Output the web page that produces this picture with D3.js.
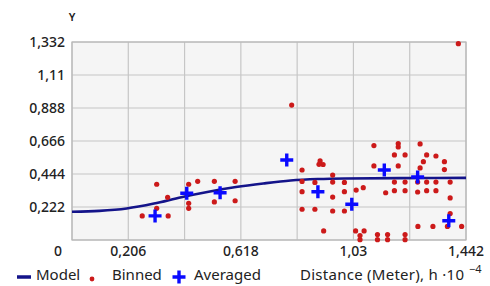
<!DOCTYPE html>
<html><head><meta charset="utf-8">
<script src="https://cdn.jsdelivr.net/npm/d3@7"></script>
<style>
body{margin:0;background:#fff;}
text{font-family:"Noto Sans","Liberation Sans",sans-serif;fill:#222;}
</style></head>
<body><svg id="c" width="490" height="286"></svg>
<script>
const xTicks = [0, 0.206, 0.412, 0.618, 0.824, 1.03, 1.236, 1.442];
const xTickLabels = ["", "0,206", "", "0,618", "", "1,03", "", "1,442"];
const yTicks = [0, 0.222, 0.444, 0.666, 0.888, 1.11, 1.332];
const yTickLabels = ["", "0,222", "0,444", "0,666", "0,888", "1,11", "1,332"];

const modelX = [0, 0.1, 0.2, 0.3, 0.4, 0.5, 0.6, 0.7, 0.8, 0.9, 1.0, 1.2, 1.442];
const modelY = [0.190, 0.196, 0.212, 0.245, 0.288, 0.325, 0.356, 0.380, 0.400, 0.410, 0.414, 0.416, 0.418];

const binnedX = [0.257,0.310,0.310,0.352,0.350,0.427,0.460,0.427,0.427,0.521,0.597,0.521,0.597,
 0.804,0.842,0.908,0.919,0.904,0.954,0.842,0.889,0.954,0.997,0.842,0.954,0.997,1.040,1.066,
 0.842,0.889,0.954,0.997,0.921,1.038,1.069,1.054,1.054,
 1.105,1.105,1.194,1.194,1.180,1.219,1.194,1.148,1.180,1.180,1.219,1.219,
 1.118,1.155,1.219,1.118,1.155,1.219,
 1.274,1.298,1.332,1.286,1.274,1.363,1.363,1.265,1.298,1.332,1.384,1.265,1.298,1.332,1.384,1.384,
 1.266,1.321,1.374,1.426,1.414];
const binnedY = [0.162,0.375,0.213,0.162,0.287,0.375,0.395,0.247,0.213,0.395,0.395,0.256,0.264,
 0.908,0.471,0.532,0.508,0.509,0.437,0.394,0.387,0.390,0.387,0.325,0.289,0.325,0.336,0.352,
 0.207,0.207,0.195,0.195,0.061,0.061,0.061,0.030,0.002,
 0.635,0.498,0.649,0.626,0.572,0.572,0.498,0.318,0.390,0.332,0.390,0.332,
 0.037,0.037,0.037,0.002,0.002,0.002,
 0.646,0.572,0.565,0.527,0.485,0.527,0.474,0.390,0.390,0.390,0.390,0.323,0.332,0.332,0.283,0.178,
 0.091,0.091,0.091,0.091,1.321];

const avgX = [0.304,0.420,0.542,0.786,0.900,1.024,1.143,1.265,1.379];
const avgY = [0.162,0.314,0.318,0.538,0.325,0.240,0.471,0.424,0.130];

const svg = d3.select("#c");
const L = 72, R = 466, T = 42, B = 240;
const x = d3.scaleLinear().domain([0, 1.442]).range([L, R]);
const y = d3.scaleLinear().domain([0, 1.332]).range([B, T]);

svg.append("rect").attr("x", L).attr("y", T).attr("width", R-L).attr("height", B-T)
  .attr("fill", "#f5f5f5");

const g = svg.append("g");
g.selectAll(".vg").data(xTicks).join("line")
  .attr("x1", d=>x(d)).attr("x2", d=>x(d)).attr("y1", T).attr("y2", B)
  .attr("stroke", "#c6c6c6").attr("stroke-width", 1.2);
g.selectAll(".hg").data(yTicks).join("line")
  .attr("y1", d=>y(d)).attr("y2", d=>y(d)).attr("x1", L).attr("x2", R)
  .attr("stroke", "#c6c6c6").attr("stroke-width", 1.2);
svg.append("rect").attr("x", L).attr("y", T).attr("width", R-L).attr("height", B-T)
  .attr("fill", "none").attr("stroke", "#b8b8b8").attr("stroke-width", 1.2);

// y labels
svg.selectAll(".yl").data(yTicks).join("text")
  .attr("x", 65).attr("y", d=>y(d)).attr("dy", "0.35em").attr("text-anchor", "end")
  .attr("font-size", 14).attr("font-weight", 500).text((d,i)=>yTickLabels[i]);
svg.append("text").attr("x", 72).attr("y", 17).attr("dy", "0.35em").attr("text-anchor", "middle")
  .attr("font-size", 11).attr("font-weight", 600).text("Y");

// x labels
svg.selectAll(".xl").data(xTicks).join("text")
  .attr("x", d=>x(d)).attr("y", 251).attr("dy", "0.35em").attr("text-anchor", "middle")
  .attr("font-size", 14).attr("font-weight", 500).text((d,i)=>xTickLabels[i]);
svg.append("text").attr("x", 58).attr("y", 251).attr("dy", "0.35em").attr("text-anchor", "middle")
  .attr("font-size", 14).attr("font-weight", 500).text("0");

// model
const line = d3.line().x(d=>x(d[0])).y(d=>y(d[1])).curve(d3.curveMonotoneX);
svg.append("path").datum(modelX.map((v,i)=>[v, modelY[i]]))
  .attr("d", line).attr("fill", "none").attr("stroke", "#14148a").attr("stroke-width", 2.6);

// binned
svg.selectAll(".b").data(binnedX.map((v,i)=>[v, binnedY[i]])).join("circle")
  .attr("cx", d=>x(d[0])).attr("cy", d=>y(d[1])).attr("r", 2.6).attr("fill", "#cc1a1a");

// averaged
const plus = (sel, cx, cy) => {
  sel.append("path").attr("d", `M${cx-6.5},${cy}H${cx+6.5}M${cx},${cy-6.5}V${cy+6.5}`)
    .attr("stroke", "#0a0aff").attr("stroke-width", 3.4).attr("fill", "none");
};
avgX.forEach((v,i)=>plus(svg, x(v), y(avgY[i])));

// legend
svg.append("line").attr("x1", 17).attr("x2", 31).attr("y1", 277).attr("y2", 277)
  .attr("stroke", "#14148a").attr("stroke-width", 3.5);
svg.append("text").attr("x", 36).attr("y", 275).attr("dy", "0.35em").attr("font-size", 15).text("Model");
svg.append("circle").attr("cx", 92).attr("cy", 279).attr("r", 2.4).attr("fill", "#cc1a1a");
svg.append("text").attr("x", 112).attr("y", 275).attr("dy", "0.35em").attr("font-size", 15).text("Binned");
plus(svg, 179, 277);
svg.append("text").attr("x", 194).attr("y", 275).attr("dy", "0.35em").attr("font-size", 15).text("Averaged");
svg.append("text").attr("x", 300).attr("y", 275).attr("dy", "0.35em").attr("font-size", 15)
  .attr("textLength", 164).attr("lengthAdjust", "spacing").text("Distance (Meter), h ·10");
svg.append("text").attr("x", 469).attr("y", 269).attr("dy", "0.35em").attr("font-size", 11).text("−4");
</script></body></html>
